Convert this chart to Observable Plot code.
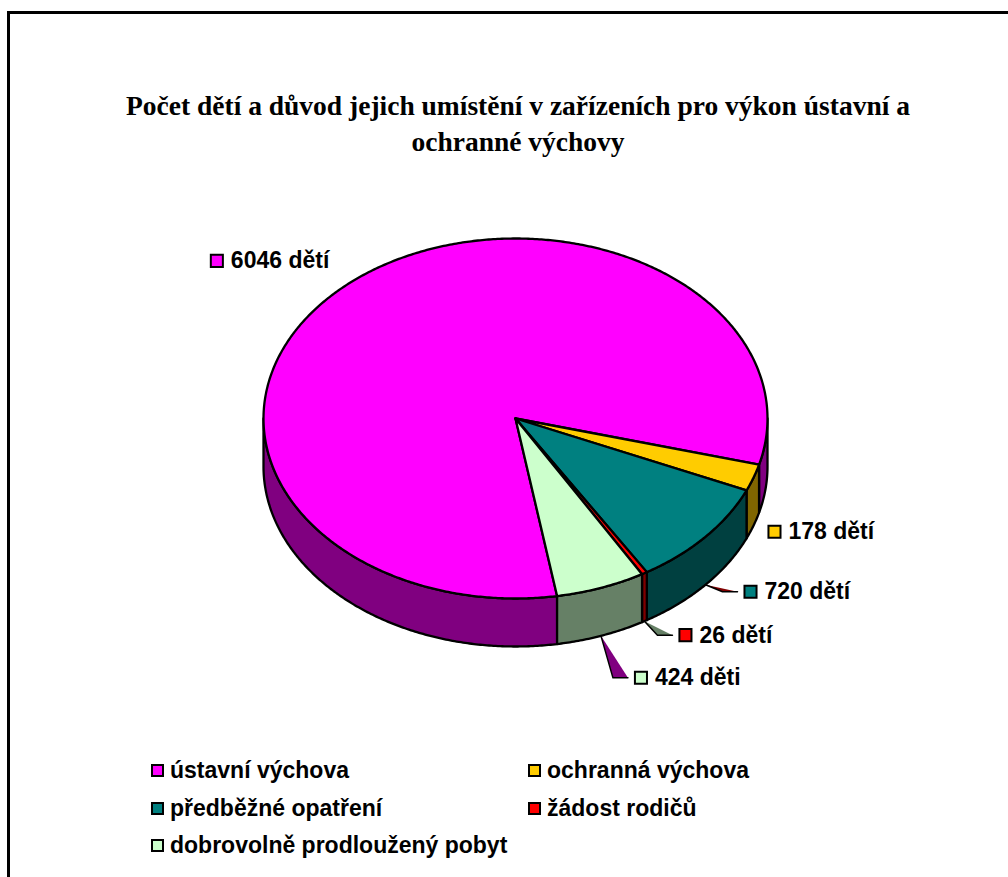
<!DOCTYPE html>
<html><head><meta charset="utf-8">
<script src="https://cdn.jsdelivr.net/npm/d3@7"></script>
<script src="https://cdn.jsdelivr.net/npm/@observablehq/plot@0.6"></script>
<style>
body{margin:0;background:#fff;}
#wrap{position:relative;width:1008px;height:877px;overflow:hidden;font-family:"Liberation Sans",Arial,sans-serif;}
#frame{position:absolute;left:7px;top:11px;width:1100px;height:1000px;border-left:3px solid #000;border-top:3px solid #000;box-sizing:border-box;}
#title{position:absolute;left:0;width:1036px;top:88px;text-align:center;font-family:"Liberation Serif","Times New Roman",serif;font-weight:bold;font-size:27.5px;line-height:36px;color:#000;}
#chart{position:absolute;left:0;top:0;}
.item{position:absolute;height:26px;display:flex;align-items:center;font-weight:bold;font-size:23px;color:#000;white-space:nowrap;}
.sw{width:9px;height:9px;border:2px solid #000;margin-right:6px;flex:none;}
</style></head>
<body><div id="wrap"><div id="frame"></div>
<div id="title">Počet dětí a důvod jejich umístění v zařízeních pro výkon ústavní a<br>ochranné výchovy</div>
<div id="chart"></div><div id="legend"></div></div>
<script>
// ---- data ----
const categories = ["ústavní výchova","ochranná výchova","předběžné opatření","žádost rodičů","dobrovolně prodloužený pobyt"];
const counts = [6046, 178, 720, 26, 424];
const labelTexts = ["6046 dětí","178 dětí","720 dětí","26 dětí","424 děti"];
const topColors = ["#FF00FF","#FFCC00","#008080","#FF0000","#CCFFCC"];
const sideColors = ["#800080","#806600","#004040","#800000","#668066"];
const leaderColors = ["#800080","#806600","#800000","#668066","#800080"];

// ---- layout ----
const W = 1008, H = 877;
const cx = 515, cy = 418, rx = 252, ry = 180, depthPx = 48;
const startAngle = 170.5; // degrees clockwise from 12 o'clock
const depth = depthPx / ry; // in unit (v) coordinates
const labelOffsets = [ // pixel offsets of label key square (left, centre-y) from anchor
  {dx: -136, dy: -24.5, leader: false, top: true},
  {dx: 14, dy: 6, leader: false},
  {dx: 38, dy: 7, leader: true},
  {dx: 34, dy: 14, leader: true},
  {dx: 33, dy: 42, leader: true}
];
const legendPos = [
  {x: 151, y: 770},{x: 528, y: 770},{x: 151, y: 808},{x: 528, y: 808},{x: 151, y: 845}
];

// ---- geometry from data ----
const total = d3.sum(counts);
let acc = startAngle;
const slices = counts.map((c, i) => {
  const a0 = acc, a1 = acc + c / total * 360; acc = a1;
  return {i, a0, a1, mid: (a0 + a1) / 2};
});
const rad = a => a * Math.PI / 180;
const pt = (a, dv = 0) => ({x: Math.sin(rad(a)), y: -Math.cos(rad(a)) + dv});
function arc(a0, a1, dv = 0) {
  const n = Math.max(2, Math.ceil(Math.abs(a1 - a0) / 0.5));
  return d3.range(n + 1).map(k => pt(a0 + (a1 - a0) * k / n, dv));
}
const sidePolys = [];
slices.forEach(s => {
  for (const [f0, f1] of [[90, 270], [450, 630]]) {
    const s0 = Math.max(s.a0, f0), s1 = Math.min(s.a1, f1);
    if (s1 > s0) {
      const top = arc(s0, s1, 0), bot = arc(s1, s0, depth);
      sidePolys.push({fill: sideColors[s.i], pts: [...top, ...bot, top[0]]});
    }
  }
});
const topPolys = slices.map(s => ({fill: topColors[s.i], pts: [{x: 0, y: 0}, ...arc(s.a0, s.a1), {x: 0, y: 0}]}));

const ux = px => px / rx, uy = px => px / ry;
const labels = slices.map(s => {
  const o = labelOffsets[s.i];
  const a = o.top ? pt(s.mid) : pt(s.mid, depth);
  return {...a, o, text: labelTexts[s.i], color: topColors[s.i], i: s.i};
});
const leaders = labels.filter(l => l.o.leader).map(l => {
  const elbow = {x: l.x + ux(l.o.dx - 21), y: l.y + uy(l.o.dy)};
  const end = {x: l.x + ux(l.o.dx - 6), y: l.y + uy(l.o.dy)};
  return {fill: leaderColors[l.i], tri: [{x: l.x, y: l.y}, elbow, end, {x: l.x, y: l.y}], line: [{x: l.x, y: l.y}, elbow, end]};
});

const poly = p => Plot.line(p.pts, {x: "x", y: "y", fill: p.fill, stroke: "#000", strokeWidth: 2.3, strokeLinejoin: "round"});
const chart = Plot.plot({
  width: W, height: H, margin: 0,
  x: {domain: [-1, 1], range: [cx - rx, cx + rx], axis: null},
  y: {domain: [-1, 1], range: [cy - ry, cy + ry], axis: null},
  style: {background: "transparent", overflow: "visible"},
  marks: [
    ...sidePolys.map(poly),
    ...topPolys.map(poly),
    ...leaders.map(l => Plot.line(l.tri, {x: "x", y: "y", fill: l.fill, stroke: "none"})),
    ...leaders.map(l => Plot.line(l.line, {x: "x", y: "y", stroke: "#000", strokeWidth: 1.5})),
    ...labels.map(l => Plot.dot([l], {x: "x", y: "y", symbol: "square", r: 6.8, fill: l.color, stroke: "#000", strokeWidth: 2, dx: l.o.dx + 7, dy: l.o.dy})),
    ...labels.map(l => Plot.text([l], {x: "x", y: "y", text: "text", textAnchor: "start", lineAnchor: "middle", dx: l.o.dx + 21, dy: l.o.dy, fontSize: 23, fontWeight: "bold", fontFamily: "Liberation Sans, Arial, sans-serif", fill: "#000"}))
  ]
});
document.getElementById("chart").appendChild(chart);

// legend
const lg = document.getElementById("legend");
categories.forEach((c, i) => {
  const d = document.createElement("div");
  d.className = "item";
  d.style.left = legendPos[i].x + "px";
  d.style.top = (legendPos[i].y - 13) + "px";
  const sw = document.createElement("span"); sw.className = "sw"; sw.style.background = topColors[i];
  const t = document.createElement("span"); t.textContent = c;
  d.appendChild(sw); d.appendChild(t); lg.appendChild(d);
});
</script></body></html>
